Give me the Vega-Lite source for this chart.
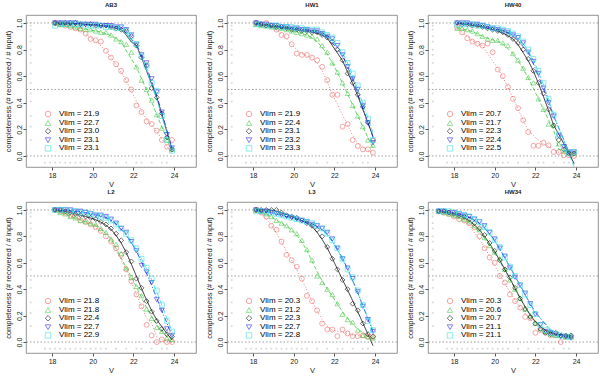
{
"$schema":"https://vega.github.io/schema/vega-lite/v6.json",
"padding":{"left":3,"top":1,"right":0,"bottom":0},
"background":"white",
"config":{
 "font":"Liberation Sans",
 "view":{"stroke":"#777","strokeWidth":0.8},
 "axis":{"grid":false,"domain":false,"tickColor":"#555","tickSize":3,"labelFontSize":7,"titleFontSize":7.5,"labelColor":"#222","titleColor":"#222","titleFontWeight":"normal","labelPadding":1,"titlePadding":3,"labelOverlap":false},
 "axisX":{"titlePadding":2},
 "axisY":{"labelAngle":270,"labelAlign":"center","labelBaseline":"bottom","labelOverlap":false},
 "title":{"fontSize":6,"fontWeight":"bold","offset":7,"color":"#222","anchor":"middle"},
 "legend":{"rowPadding":-0.8}
},
"datasets":{
 "hl":[{"y":0},{"y":0.5},{"y":1}],
 "gr":[{"x":16.95,"y":1.0},{"x":16.95,"y":0.98},{"x":16.95,"y":0.95},{"x":16.95,"y":0.9},{"x":16.95,"y":0.86},{"x":16.95,"y":0.8},{"x":16.95,"y":0.76},{"x":16.95,"y":0.7},{"x":16.95,"y":0.62},{"x":16.95,"y":0.55},{"x":16.95,"y":0.47},{"x":16.95,"y":0.41},{"x":16.95,"y":0.3},{"x":16.95,"y":0.22},{"x":16.95,"y":0.12},
  {"x":17.65,"y":-0.05},{"x":17.9,"y":-0.05},{"x":18.15,"y":-0.05},{"x":18.4,"y":-0.05},{"x":18.65,"y":-0.05},{"x":18.9,"y":-0.05},{"x":19.15,"y":-0.05},{"x":19.4,"y":-0.05},{"x":19.65,"y":-0.05},{"x":19.9,"y":-0.05},{"x":20.15,"y":-0.05},{"x":20.4,"y":-0.05},{"x":20.65,"y":-0.05},{"x":21.15,"y":-0.05},{"x":21.65,"y":-0.05},{"x":22.15,"y":-0.05},{"x":22.4,"y":-0.05},{"x":22.9,"y":-0.05},{"x":23.4,"y":-0.05},{"x":23.65,"y":-0.05}],
 "pts":[
  {"p":"AB3","k":0,"x":[18.15,18.4,18.65,18.9,19.15,19.4,19.65,19.9,20.15,20.4,20.65,20.9,21.15,21.4,21.65,21.9,22.15,22.4,22.65,22.9,23.15,23.4,23.65,23.9],"y":[1.0,0.99,0.98,0.97,0.96,0.95,0.92,0.88,0.87,0.86,0.79,0.74,0.69,0.64,0.57,0.50,0.38,0.33,0.26,0.24,0.19,0.12,0.07,0.12]},
  {"p":"AB3","k":1,"x":[18.15,18.4,18.65,18.9,19.15,19.4,19.65,19.9,20.15,20.4,20.65,20.9,21.15,21.4,21.65,21.9,22.15,22.4,22.65,22.9,23.15,23.4,23.65,23.9],"y":[1.0,0.99,0.99,0.98,0.97,0.96,0.95,0.95,0.94,0.93,0.93,0.91,0.88,0.86,0.84,0.78,0.67,0.57,0.50,0.42,0.31,0.21,0.12,0.05]},
  {"p":"AB3","k":2,"x":[18.15,18.4,18.65,18.9,19.15,19.4,19.65,19.9,20.15,20.4,20.65,20.9,21.15,21.4,21.65,21.9,22.15,22.4,22.65,22.9,23.15,23.4,23.65,23.9],"y":[1.0,1.0,1.0,1.0,1.0,0.99,0.99,0.99,0.98,0.98,0.98,0.97,0.96,0.95,0.94,0.90,0.83,0.74,0.68,0.51,0.44,0.32,0.14,0.05]},
  {"p":"AB3","k":3,"x":[18.15,18.4,18.65,18.9,19.15,19.4,19.65,19.9,20.15,20.4,20.65,20.9,21.15,21.4,21.65,21.9,22.15,22.4,22.65,22.9,23.15,23.4,23.65,23.9],"y":[1.0,1.0,1.0,1.0,1.0,0.99,0.99,0.99,0.99,0.98,0.98,0.98,0.97,0.97,0.95,0.91,0.84,0.76,0.70,0.58,0.48,0.33,0.16,0.06]},
  {"p":"AB3","k":4,"x":[18.15,18.4,18.65,18.9,19.15,19.4,19.65,19.9,20.15,20.4,20.65,20.9,21.15,21.4,21.65,21.9,22.15,22.4,22.65,22.9,23.15,23.4,23.65,23.9],"y":[0.98,0.99,0.99,0.99,0.99,0.99,0.98,0.98,0.98,0.98,0.97,0.97,0.96,0.96,0.94,0.90,0.84,0.75,0.68,0.55,0.49,0.30,0.12,0.04]},
  {"p":"HW1","k":0,"x":[18.15,18.4,18.65,18.9,19.15,19.4,19.65,19.9,20.15,20.4,20.65,20.9,21.15,21.4,21.65,21.9,22.15,22.4,22.65,22.9,23.15,23.4,23.65,23.9],"y":[1.0,0.99,1.0,0.98,0.95,0.91,0.90,0.84,0.77,0.76,0.76,0.74,0.72,0.67,0.57,0.46,0.46,0.22,0.24,0.12,0.075,0.05,0.05,0.025]},
  {"p":"HW1","k":1,"x":[18.15,18.4,18.65,18.9,19.15,19.4,19.65,19.9,20.15,20.4,20.65,20.9,21.15,21.4,21.65,21.9,22.15,22.4,22.65,22.9,23.15,23.4,23.65,23.9],"y":[0.99,0.98,0.98,0.97,0.97,0.96,0.95,0.94,0.93,0.92,0.91,0.90,0.88,0.83,0.78,0.70,0.63,0.55,0.47,0.38,0.30,0.22,0.12,0.08]},
  {"p":"HW1","k":2,"x":[18.15,18.4,18.65,18.9,19.15,19.4,19.65,19.9,20.15,20.4,20.65,20.9,21.15,21.4,21.65,21.9,22.15,22.4,22.65,22.9,23.15,23.4,23.65,23.9],"y":[1.0,0.99,0.98,0.98,0.97,0.97,0.96,0.95,0.95,0.94,0.94,0.93,0.93,0.91,0.89,0.86,0.80,0.72,0.62,0.55,0.46,0.37,0.25,0.12]},
  {"p":"HW1","k":3,"x":[18.15,18.4,18.65,18.9,19.15,19.4,19.65,19.9,20.15,20.4,20.65,20.9,21.15,21.4,21.65,21.9,22.15,22.4,22.65,22.9,23.15,23.4,23.65,23.9],"y":[1.0,0.99,0.99,0.98,0.98,0.97,0.97,0.96,0.96,0.95,0.95,0.94,0.94,0.92,0.90,0.88,0.83,0.76,0.67,0.58,0.50,0.38,0.25,0.10]},
  {"p":"HW1","k":4,"x":[18.15,18.4,18.65,18.9,19.15,19.4,19.65,19.9,20.15,20.4,20.65,20.9,21.15,21.4,21.65,21.9,22.15,22.4,22.65,22.9,23.15,23.4,23.65,23.9],"y":[0.99,0.99,0.98,0.98,0.98,0.97,0.97,0.97,0.96,0.96,0.95,0.95,0.95,0.93,0.91,0.89,0.85,0.78,0.70,0.62,0.53,0.40,0.28,0.12]},
  {"p":"HW40","k":0,"x":[18.15,18.4,18.65,18.9,19.15,19.4,19.65,19.9,20.15,20.4,20.65,20.9,21.15,21.4,21.65,21.9,22.15,22.4,22.65,22.9,23.15,23.4,23.65,23.9],"y":[0.97,0.93,0.885,0.86,0.845,0.83,0.845,0.78,0.65,0.60,0.52,0.43,0.36,0.27,0.18,0.077,0.077,0.10,0.08,0.03,0.03,0.005,0.005,0.0]},
  {"p":"HW40","k":1,"x":[18.15,18.4,18.65,18.9,19.15,19.4,19.65,19.9,20.15,20.4,20.65,20.9,21.15,21.4,21.65,21.9,22.15,22.4,22.65,22.9,23.15,23.4,23.65,23.9],"y":[0.96,0.96,0.95,0.94,0.92,0.90,0.88,0.87,0.87,0.85,0.83,0.77,0.72,0.66,0.59,0.55,0.43,0.35,0.24,0.23,0.09,0.04,0.03,0.02]},
  {"p":"HW40","k":2,"x":[18.15,18.4,18.65,18.9,19.15,19.4,19.65,19.9,20.15,20.4,20.65,20.9,21.15,21.4,21.65,21.9,22.15,22.4,22.65,22.9,23.15,23.4,23.65,23.9],"y":[1.0,0.99,0.99,0.98,0.98,0.97,0.96,0.95,0.94,0.93,0.91,0.88,0.85,0.80,0.73,0.64,0.55,0.47,0.35,0.23,0.12,0.05,0.02,0.02]},
  {"p":"HW40","k":3,"x":[18.15,18.4,18.65,18.9,19.15,19.4,19.65,19.9,20.15,20.4,20.65,20.9,21.15,21.4,21.65,21.9,22.15,22.4,22.65,22.9,23.15,23.4,23.65,23.9],"y":[1.0,1.0,1.0,0.99,0.99,0.98,0.97,0.96,0.95,0.94,0.93,0.91,0.89,0.85,0.78,0.71,0.62,0.51,0.40,0.30,0.15,0.07,0.03,0.03]},
  {"p":"HW40","k":4,"x":[18.15,18.4,18.65,18.9,19.15,19.4,19.65,19.9,20.15,20.4,20.65,20.9,21.15,21.4,21.65,21.9,22.15,22.4,22.65,22.9,23.15,23.4,23.65,23.9],"y":[0.99,0.99,0.99,0.99,0.98,0.98,0.97,0.96,0.96,0.95,0.94,0.92,0.90,0.86,0.80,0.73,0.64,0.55,0.43,0.31,0.16,0.06,0.02,0.03]},
  {"p":"L2","k":0,"x":[18.15,18.4,18.65,18.9,19.15,19.4,19.65,19.9,20.15,20.4,20.65,20.9,21.15,21.4,21.65,21.9,22.15,22.4,22.65,22.9,23.15,23.4,23.65,23.9],"y":[1.0,0.99,0.98,0.96,0.95,0.92,0.91,0.89,0.87,0.84,0.80,0.76,0.71,0.66,0.55,0.46,0.36,0.27,0.13,0.05,0.0,0.02,0.0,0.0]},
  {"p":"L2","k":1,"x":[18.15,18.4,18.65,18.9,19.15,19.4,19.65,19.9,20.15,20.4,20.65,20.9,21.15,21.4,21.65,21.9,22.15,22.4,22.65,22.9,23.15,23.4,23.65,23.9],"y":[1.0,0.98,0.97,0.95,0.94,0.92,0.91,0.90,0.89,0.86,0.83,0.78,0.74,0.67,0.56,0.49,0.42,0.35,0.25,0.18,0.11,0.08,0.03,0.02]},
  {"p":"L2","k":2,"x":[18.15,18.4,18.65,18.9,19.15,19.4,19.65,19.9,20.15,20.4,20.65,20.9,21.15,21.4,21.65,21.9,22.15,22.4,22.65,22.9,23.15,23.4,23.65,23.9],"y":[1.0,1.0,0.99,0.98,0.97,0.96,0.95,0.94,0.93,0.91,0.89,0.86,0.82,0.77,0.68,0.61,0.48,0.41,0.31,0.23,0.16,0.10,0.06,0.04]},
  {"p":"L2","k":3,"x":[18.15,18.4,18.65,18.9,19.15,19.4,19.65,19.9,20.15,20.4,20.65,20.9,21.15,21.4,21.65,21.9,22.15,22.4,22.65,22.9,23.15,23.4,23.65,23.9],"y":[1.0,1.0,1.0,1.0,0.99,0.99,0.98,0.97,0.96,0.96,0.95,0.93,0.90,0.86,0.83,0.76,0.69,0.58,0.53,0.45,0.32,0.24,0.10,0.05]},
  {"p":"L2","k":4,"x":[18.15,18.4,18.65,18.9,19.15,19.4,19.65,19.9,20.15,20.4,20.65,20.9,21.15,21.4,21.65,21.9,22.15,22.4,22.65,22.9,23.15,23.4,23.65,23.9],"y":[1.0,1.0,1.0,0.99,0.99,0.98,0.98,0.97,0.96,0.95,0.94,0.92,0.89,0.86,0.82,0.77,0.71,0.63,0.56,0.48,0.39,0.28,0.16,0.08]},
  {"p":"L3","k":0,"x":[18.15,18.4,18.65,18.9,19.15,19.4,19.65,19.9,20.15,20.4,20.65,20.9,21.15,21.4,21.65,21.9,22.15,22.4,22.65,22.9,23.15,23.4,23.65,23.9],"y":[1.0,0.98,0.95,0.88,0.85,0.76,0.66,0.62,0.57,0.48,0.35,0.31,0.24,0.14,0.095,0.095,0.045,0.095,0.065,0.045,0.045,0.05,0.04,0.04]},
  {"p":"L3","k":1,"x":[18.15,18.4,18.65,18.9,19.15,19.4,19.65,19.9,20.15,20.4,20.65,20.9,21.15,21.4,21.65,21.9,22.15,22.4,22.65,22.9,23.15,23.4,23.65,23.9],"y":[1.0,0.99,0.97,0.95,0.92,0.90,0.88,0.85,0.82,0.77,0.70,0.62,0.50,0.45,0.40,0.36,0.29,0.21,0.17,0.15,0.09,0.05,0.04,0.03]},
  {"p":"L3","k":2,"x":[18.15,18.4,18.65,18.9,19.15,19.4,19.65,19.9,20.15,20.4,20.65,20.9,21.15,21.4,21.65,21.9,22.15,22.4,22.65,22.9,23.15,23.4,23.65,23.9],"y":[1.0,1.0,1.0,1.0,1.0,0.98,0.96,0.95,0.94,0.92,0.90,0.88,0.85,0.80,0.72,0.63,0.55,0.47,0.40,0.29,0.24,0.14,0.06,0.04]},
  {"p":"L3","k":3,"x":[18.15,18.4,18.65,18.9,19.15,19.4,19.65,19.9,20.15,20.4,20.65,20.9,21.15,21.4,21.65,21.9,22.15,22.4,22.65,22.9,23.15,23.4,23.65,23.9],"y":[1.0,0.99,0.99,0.98,0.97,0.96,0.95,0.94,0.93,0.92,0.91,0.89,0.88,0.86,0.83,0.78,0.71,0.63,0.56,0.48,0.38,0.27,0.17,0.08]},
  {"p":"L3","k":4,"x":[18.15,18.4,18.65,18.9,19.15,19.4,19.65,19.9,20.15,20.4,20.65,20.9,21.15,21.4,21.65,21.9,22.15,22.4,22.65,22.9,23.15,23.4,23.65,23.9],"y":[0.99,0.99,0.98,0.98,0.97,0.96,0.95,0.94,0.93,0.92,0.91,0.90,0.88,0.86,0.82,0.77,0.71,0.63,0.55,0.49,0.39,0.28,0.16,0.09]},
  {"p":"HW34","k":0,"x":[17.25,17.5,17.75,18.0,18.25,18.5,18.75,19.0,19.25,19.5,19.75,20.0,20.25,20.5,20.75,21.0,21.25,21.5,21.75,22.0,22.25,22.5,22.75,23.0,23.25,23.5,23.75],"y":[0.99,0.98,0.97,0.95,0.93,0.92,0.90,0.87,0.80,0.71,0.64,0.60,0.50,0.45,0.36,0.31,0.26,0.19,0.18,0.07,0.09,0.07,0.05,0.05,0.0,0.04,0.04]},
  {"p":"HW34","k":1,"x":[17.25,17.5,17.75,18.0,18.25,18.5,18.75,19.0,19.25,19.5,19.75,20.0,20.25,20.5,20.75,21.0,21.25,21.5,21.75,22.0,22.25,22.5,22.75,23.0,23.25,23.5,23.75],"y":[0.99,0.98,0.97,0.96,0.95,0.93,0.91,0.88,0.85,0.79,0.73,0.68,0.63,0.55,0.47,0.40,0.33,0.25,0.20,0.14,0.10,0.08,0.06,0.05,0.05,0.04,0.04]},
  {"p":"HW34","k":2,"x":[17.25,17.5,17.75,18.0,18.25,18.5,18.75,19.0,19.25,19.5,19.75,20.0,20.25,20.5,20.75,21.0,21.25,21.5,21.75,22.0,22.25,22.5,22.75,23.0,23.25,23.5,23.75],"y":[0.99,0.99,0.98,0.97,0.96,0.95,0.93,0.90,0.86,0.81,0.75,0.69,0.62,0.55,0.49,0.41,0.33,0.25,0.19,0.14,0.10,0.07,0.06,0.07,0.05,0.05,0.05]},
  {"p":"HW34","k":3,"x":[17.25,17.5,17.75,18.0,18.25,18.5,18.75,19.0,19.25,19.5,19.75,20.0,20.25,20.5,20.75,21.0,21.25,21.5,21.75,22.0,22.25,22.5,22.75,23.0,23.25,23.5,23.75],"y":[0.99,0.99,0.98,0.98,0.97,0.96,0.95,0.93,0.91,0.88,0.83,0.78,0.71,0.65,0.56,0.49,0.43,0.37,0.29,0.21,0.13,0.08,0.07,0.06,0.04,0.04,0.03]},
  {"p":"HW34","k":4,"x":[17.25,17.5,17.75,18.0,18.25,18.5,18.75,19.0,19.25,19.5,19.75,20.0,20.25,20.5,20.75,21.0,21.25,21.5,21.75,22.0,22.25,22.5,22.75,23.0,23.25,23.5,23.75],"y":[0.99,0.99,0.99,0.98,0.97,0.96,0.95,0.93,0.91,0.87,0.83,0.77,0.72,0.64,0.57,0.50,0.43,0.36,0.28,0.21,0.13,0.09,0.07,0.06,0.05,0.04,0.04]}
 ]
},
"spacing":0,
"resolve":{"scale":{"color":"independent","shape":"independent"},"legend":{"color":"independent","shape":"independent"}},
"vconcat":[
{"hconcat":[
{"title":"AB3","width":170,"height":152,"encoding":{"x":{"field":"x","type":"quantitative","scale":{"domain":[16.72,25.08],"nice":false,"zero":false},"title":"V","axis":{"values":[18,20,22,24],"labelOverlap":false}},"y":{"field":"y","type":"quantitative","scale":{"domain":[-0.083,1.06],"nice":false,"zero":false},"title":"completeness (# recovered / # input)","axis":{"values":[0,0.2,0.4,0.6,0.8,1],"format":".1f","labelOverlap":false,"labelSeparation":0}}},"layer":[
 {"data":{"name":"hl"},"mark":{"type":"rule","color":"#888","strokeDash":[1.5,2],"strokeWidth":0.8},"encoding":{"x":null}},
 {"data":{"name":"gr"},"mark":{"type":"square","size":3,"color":"#c8c8c8"}},
 {"data":{"name":"pts"},"transform":[{"filter":"datum.p=='AB3'"},{"flatten":["x","y"]},{"loess":"y","on":"x","groupby":["k"],"bandwidth":0.3}],"mark":{"type":"line"},"encoding":{"stroke":{"field":"k","type":"nominal","scale":{"domain":[0,1,2,3,4],"range":["#f06060","#40c840","#000000","#2020f0","#30e0e0"]},"legend":null},"strokeDash":{"field":"k","type":"nominal","scale":{"domain":[0,1,2,3,4],"range":[[1,2],[4,2],[1,0],[5,2,1,2],[6,2]]},"legend":null},"strokeWidth":{"field":"k","type":"ordinal","scale":{"domain":[0,1,2,3,4],"range":[0.8,0.8,1.4,0.8,0.8]},"legend":null}}},
 {"data":{"name":"pts"},"transform":[{"filter":"datum.p=='AB3'"},{"flatten":["x","y"]}],"mark":{"type":"point","filled":false,"size":24,"strokeWidth":0.8},"encoding":{
  "color":{"field":"k","type":"nominal","scale":{"domain":[0,1,2,3,4],"range":["#f06060","#40c840","#000000","#2020f0","#30e0e0"]},"legend":{"title":null,"orient":"none","legendX":18,"legendY":95,"padding":0,"labelExpr":"['Vlim = 21.9','Vlim = 22.7','Vlim = 23.0','Vlim = 23.1','Vlim = 23.1'][datum.value]","symbolSize":30,"labelFontSize":8,"labelOffset":7,"symbolStrokeWidth":0.8}},
  "shape":{"field":"k","type":"nominal","scale":{"domain":[0,1,2,3,4],"range":["circle","triangle-up","diamond","triangle-down","square"]},"legend":{"title":null,"orient":"none","legendX":18,"legendY":95,"padding":0,"labelExpr":"['Vlim = 21.9','Vlim = 22.7','Vlim = 23.0','Vlim = 23.1','Vlim = 23.1'][datum.value]","symbolSize":30,"labelFontSize":8,"labelOffset":7,"symbolStrokeWidth":0.8}}}}
]},
{"title":"HW1","width":170,"height":152,"encoding":{"x":{"field":"x","type":"quantitative","scale":{"domain":[16.72,25.08],"nice":false,"zero":false},"title":"V","axis":{"values":[18,20,22,24],"labelOverlap":false}},"y":{"field":"y","type":"quantitative","scale":{"domain":[-0.083,1.06],"nice":false,"zero":false},"title":"completeness (# recovered / # input)","axis":{"values":[0,0.2,0.4,0.6,0.8,1],"format":".1f","labelOverlap":false,"labelSeparation":0}}},"layer":[
 {"data":{"name":"hl"},"mark":{"type":"rule","color":"#888","strokeDash":[1.5,2],"strokeWidth":0.8},"encoding":{"x":null}},
 {"data":{"name":"gr"},"mark":{"type":"square","size":3,"color":"#c8c8c8"}},
 {"data":{"name":"pts"},"transform":[{"filter":"datum.p=='HW1'"},{"flatten":["x","y"]},{"loess":"y","on":"x","groupby":["k"],"bandwidth":0.3}],"mark":{"type":"line"},"encoding":{"stroke":{"field":"k","type":"nominal","scale":{"domain":[0,1,2,3,4],"range":["#f06060","#40c840","#000000","#2020f0","#30e0e0"]},"legend":null},"strokeDash":{"field":"k","type":"nominal","scale":{"domain":[0,1,2,3,4],"range":[[1,2],[4,2],[1,0],[5,2,1,2],[6,2]]},"legend":null},"strokeWidth":{"field":"k","type":"ordinal","scale":{"domain":[0,1,2,3,4],"range":[0.8,0.8,1.4,0.8,0.8]},"legend":null}}},
 {"data":{"name":"pts"},"transform":[{"filter":"datum.p=='HW1'"},{"flatten":["x","y"]}],"mark":{"type":"point","filled":false,"size":24,"strokeWidth":0.8},"encoding":{
  "color":{"field":"k","type":"nominal","scale":{"domain":[0,1,2,3,4],"range":["#f06060","#40c840","#000000","#2020f0","#30e0e0"]},"legend":{"title":null,"orient":"none","legendX":18,"legendY":95,"padding":0,"labelExpr":"['Vlim = 21.9','Vlim = 22.4','Vlim = 23.1','Vlim = 23.2','Vlim = 23.3'][datum.value]","symbolSize":30,"labelFontSize":8,"labelOffset":7,"symbolStrokeWidth":0.8}},
  "shape":{"field":"k","type":"nominal","scale":{"domain":[0,1,2,3,4],"range":["circle","triangle-up","diamond","triangle-down","square"]},"legend":{"title":null,"orient":"none","legendX":18,"legendY":95,"padding":0,"labelExpr":"['Vlim = 21.9','Vlim = 22.4','Vlim = 23.1','Vlim = 23.2','Vlim = 23.3'][datum.value]","symbolSize":30,"labelFontSize":8,"labelOffset":7,"symbolStrokeWidth":0.8}}}}
]},
{"title":"HW40","width":170,"height":152,"encoding":{"x":{"field":"x","type":"quantitative","scale":{"domain":[16.72,25.08],"nice":false,"zero":false},"title":"V","axis":{"values":[18,20,22,24],"labelOverlap":false}},"y":{"field":"y","type":"quantitative","scale":{"domain":[-0.083,1.06],"nice":false,"zero":false},"title":"completeness (# recovered / # input)","axis":{"values":[0,0.2,0.4,0.6,0.8,1],"format":".1f","labelOverlap":false,"labelSeparation":0}}},"layer":[
 {"data":{"name":"hl"},"mark":{"type":"rule","color":"#888","strokeDash":[1.5,2],"strokeWidth":0.8},"encoding":{"x":null}},
 {"data":{"name":"gr"},"mark":{"type":"square","size":3,"color":"#c8c8c8"}},
 {"data":{"name":"pts"},"transform":[{"filter":"datum.p=='HW40'"},{"flatten":["x","y"]},{"loess":"y","on":"x","groupby":["k"],"bandwidth":0.3}],"mark":{"type":"line"},"encoding":{"stroke":{"field":"k","type":"nominal","scale":{"domain":[0,1,2,3,4],"range":["#f06060","#40c840","#000000","#2020f0","#30e0e0"]},"legend":null},"strokeDash":{"field":"k","type":"nominal","scale":{"domain":[0,1,2,3,4],"range":[[1,2],[4,2],[1,0],[5,2,1,2],[6,2]]},"legend":null},"strokeWidth":{"field":"k","type":"ordinal","scale":{"domain":[0,1,2,3,4],"range":[0.8,0.8,1.4,0.8,0.8]},"legend":null}}},
 {"data":{"name":"pts"},"transform":[{"filter":"datum.p=='HW40'"},{"flatten":["x","y"]}],"mark":{"type":"point","filled":false,"size":24,"strokeWidth":0.8},"encoding":{
  "color":{"field":"k","type":"nominal","scale":{"domain":[0,1,2,3,4],"range":["#f06060","#40c840","#000000","#2020f0","#30e0e0"]},"legend":{"title":null,"orient":"none","legendX":18,"legendY":95,"padding":0,"labelExpr":"['Vlim = 20.7','Vlim = 21.7','Vlim = 22.3','Vlim = 22.4','Vlim = 22.5'][datum.value]","symbolSize":30,"labelFontSize":8,"labelOffset":7,"symbolStrokeWidth":0.8}},
  "shape":{"field":"k","type":"nominal","scale":{"domain":[0,1,2,3,4],"range":["circle","triangle-up","diamond","triangle-down","square"]},"legend":{"title":null,"orient":"none","legendX":18,"legendY":95,"padding":0,"labelExpr":"['Vlim = 20.7','Vlim = 21.7','Vlim = 22.3','Vlim = 22.4','Vlim = 22.5'][datum.value]","symbolSize":30,"labelFontSize":8,"labelOffset":7,"symbolStrokeWidth":0.8}}}}
]}
],"spacing":7,"resolve":{"scale":{"color":"independent","shape":"independent"},"legend":{"color":"independent","shape":"independent"}}},
{"hconcat":[
{"title":"L2","width":170,"height":151,"encoding":{"x":{"field":"x","type":"quantitative","scale":{"domain":[16.72,25.08],"nice":false,"zero":false},"title":"V","axis":{"values":[18,20,22,24],"labelOverlap":false}},"y":{"field":"y","type":"quantitative","scale":{"domain":[-0.083,1.06],"nice":false,"zero":false},"title":"completeness (# recovered / # input)","axis":{"values":[0,0.2,0.4,0.6,0.8,1],"format":".1f","labelOverlap":false,"labelSeparation":0}}},"layer":[
 {"data":{"name":"hl"},"mark":{"type":"rule","color":"#888","strokeDash":[1.5,2],"strokeWidth":0.8},"encoding":{"x":null}},
 {"data":{"name":"gr"},"mark":{"type":"square","size":3,"color":"#c8c8c8"}},
 {"data":{"name":"pts"},"transform":[{"filter":"datum.p=='L2'"},{"flatten":["x","y"]},{"loess":"y","on":"x","groupby":["k"],"bandwidth":0.3}],"mark":{"type":"line"},"encoding":{"stroke":{"field":"k","type":"nominal","scale":{"domain":[0,1,2,3,4],"range":["#f06060","#40c840","#000000","#2020f0","#30e0e0"]},"legend":null},"strokeDash":{"field":"k","type":"nominal","scale":{"domain":[0,1,2,3,4],"range":[[1,2],[4,2],[1,0],[5,2,1,2],[6,2]]},"legend":null},"strokeWidth":{"field":"k","type":"ordinal","scale":{"domain":[0,1,2,3,4],"range":[0.8,0.8,1.4,0.8,0.8]},"legend":null}}},
 {"data":{"name":"pts"},"transform":[{"filter":"datum.p=='L2'"},{"flatten":["x","y"]}],"mark":{"type":"point","filled":false,"size":24,"strokeWidth":0.8},"encoding":{
  "color":{"field":"k","type":"nominal","scale":{"domain":[0,1,2,3,4],"range":["#f06060","#40c840","#000000","#2020f0","#30e0e0"]},"legend":{"title":null,"orient":"none","legendX":18,"legendY":95,"padding":0,"labelExpr":"['Vlim = 21.8','Vlim = 21.8','Vlim = 22.4','Vlim = 22.7','Vlim = 22.9'][datum.value]","symbolSize":30,"labelFontSize":8,"labelOffset":7,"symbolStrokeWidth":0.8}},
  "shape":{"field":"k","type":"nominal","scale":{"domain":[0,1,2,3,4],"range":["circle","triangle-up","diamond","triangle-down","square"]},"legend":{"title":null,"orient":"none","legendX":18,"legendY":95,"padding":0,"labelExpr":"['Vlim = 21.8','Vlim = 21.8','Vlim = 22.4','Vlim = 22.7','Vlim = 22.9'][datum.value]","symbolSize":30,"labelFontSize":8,"labelOffset":7,"symbolStrokeWidth":0.8}}}}
]},
{"title":"L3","width":170,"height":151,"encoding":{"x":{"field":"x","type":"quantitative","scale":{"domain":[16.72,25.08],"nice":false,"zero":false},"title":"V","axis":{"values":[18,20,22,24],"labelOverlap":false}},"y":{"field":"y","type":"quantitative","scale":{"domain":[-0.083,1.06],"nice":false,"zero":false},"title":"completeness (# recovered / # input)","axis":{"values":[0,0.2,0.4,0.6,0.8,1],"format":".1f","labelOverlap":false,"labelSeparation":0}}},"layer":[
 {"data":{"name":"hl"},"mark":{"type":"rule","color":"#888","strokeDash":[1.5,2],"strokeWidth":0.8},"encoding":{"x":null}},
 {"data":{"name":"gr"},"mark":{"type":"square","size":3,"color":"#c8c8c8"}},
 {"data":{"name":"pts"},"transform":[{"filter":"datum.p=='L3'"},{"flatten":["x","y"]},{"loess":"y","on":"x","groupby":["k"],"bandwidth":0.3}],"mark":{"type":"line"},"encoding":{"stroke":{"field":"k","type":"nominal","scale":{"domain":[0,1,2,3,4],"range":["#f06060","#40c840","#000000","#2020f0","#30e0e0"]},"legend":null},"strokeDash":{"field":"k","type":"nominal","scale":{"domain":[0,1,2,3,4],"range":[[1,2],[4,2],[1,0],[5,2,1,2],[6,2]]},"legend":null},"strokeWidth":{"field":"k","type":"ordinal","scale":{"domain":[0,1,2,3,4],"range":[0.8,0.8,1.4,0.8,0.8]},"legend":null}}},
 {"data":{"name":"pts"},"transform":[{"filter":"datum.p=='L3'"},{"flatten":["x","y"]}],"mark":{"type":"point","filled":false,"size":24,"strokeWidth":0.8},"encoding":{
  "color":{"field":"k","type":"nominal","scale":{"domain":[0,1,2,3,4],"range":["#f06060","#40c840","#000000","#2020f0","#30e0e0"]},"legend":{"title":null,"orient":"none","legendX":18,"legendY":95,"padding":0,"labelExpr":"['Vlim = 20.3','Vlim = 21.2','Vlim = 22.3','Vlim = 22.7','Vlim = 22.8'][datum.value]","symbolSize":30,"labelFontSize":8,"labelOffset":7,"symbolStrokeWidth":0.8}},
  "shape":{"field":"k","type":"nominal","scale":{"domain":[0,1,2,3,4],"range":["circle","triangle-up","diamond","triangle-down","square"]},"legend":{"title":null,"orient":"none","legendX":18,"legendY":95,"padding":0,"labelExpr":"['Vlim = 20.3','Vlim = 21.2','Vlim = 22.3','Vlim = 22.7','Vlim = 22.8'][datum.value]","symbolSize":30,"labelFontSize":8,"labelOffset":7,"symbolStrokeWidth":0.8}}}}
]},
{"title":"HW34","width":170,"height":151,"encoding":{"x":{"field":"x","type":"quantitative","scale":{"domain":[16.72,25.08],"nice":false,"zero":false},"title":"V","axis":{"values":[18,20,22,24],"labelOverlap":false}},"y":{"field":"y","type":"quantitative","scale":{"domain":[-0.083,1.06],"nice":false,"zero":false},"title":"completeness (# recovered / # input)","axis":{"values":[0,0.2,0.4,0.6,0.8,1],"format":".1f","labelOverlap":false,"labelSeparation":0}}},"layer":[
 {"data":{"name":"hl"},"mark":{"type":"rule","color":"#888","strokeDash":[1.5,2],"strokeWidth":0.8},"encoding":{"x":null}},
 {"data":{"name":"gr"},"mark":{"type":"square","size":3,"color":"#c8c8c8"}},
 {"data":{"name":"pts"},"transform":[{"filter":"datum.p=='HW34'"},{"flatten":["x","y"]},{"loess":"y","on":"x","groupby":["k"],"bandwidth":0.3}],"mark":{"type":"line"},"encoding":{"stroke":{"field":"k","type":"nominal","scale":{"domain":[0,1,2,3,4],"range":["#f06060","#40c840","#000000","#2020f0","#30e0e0"]},"legend":null},"strokeDash":{"field":"k","type":"nominal","scale":{"domain":[0,1,2,3,4],"range":[[1,2],[4,2],[1,0],[5,2,1,2],[6,2]]},"legend":null},"strokeWidth":{"field":"k","type":"ordinal","scale":{"domain":[0,1,2,3,4],"range":[0.8,0.8,1.4,0.8,0.8]},"legend":null}}},
 {"data":{"name":"pts"},"transform":[{"filter":"datum.p=='HW34'"},{"flatten":["x","y"]}],"mark":{"type":"point","filled":false,"size":24,"strokeWidth":0.8},"encoding":{
  "color":{"field":"k","type":"nominal","scale":{"domain":[0,1,2,3,4],"range":["#f06060","#40c840","#000000","#2020f0","#30e0e0"]},"legend":{"title":null,"orient":"none","legendX":18,"legendY":95,"padding":0,"labelExpr":"['Vlim = 20.3','Vlim = 20.6','Vlim = 20.7','Vlim = 21.1','Vlim = 21.1'][datum.value]","symbolSize":30,"labelFontSize":8,"labelOffset":7,"symbolStrokeWidth":0.8}},
  "shape":{"field":"k","type":"nominal","scale":{"domain":[0,1,2,3,4],"range":["circle","triangle-up","diamond","triangle-down","square"]},"legend":{"title":null,"orient":"none","legendX":18,"legendY":95,"padding":0,"labelExpr":"['Vlim = 20.3','Vlim = 20.6','Vlim = 20.7','Vlim = 21.1','Vlim = 21.1'][datum.value]","symbolSize":30,"labelFontSize":8,"labelOffset":7,"symbolStrokeWidth":0.8}}}}
]}
],"spacing":7,"resolve":{"scale":{"color":"independent","shape":"independent"},"legend":{"color":"independent","shape":"independent"}}}
]
}
